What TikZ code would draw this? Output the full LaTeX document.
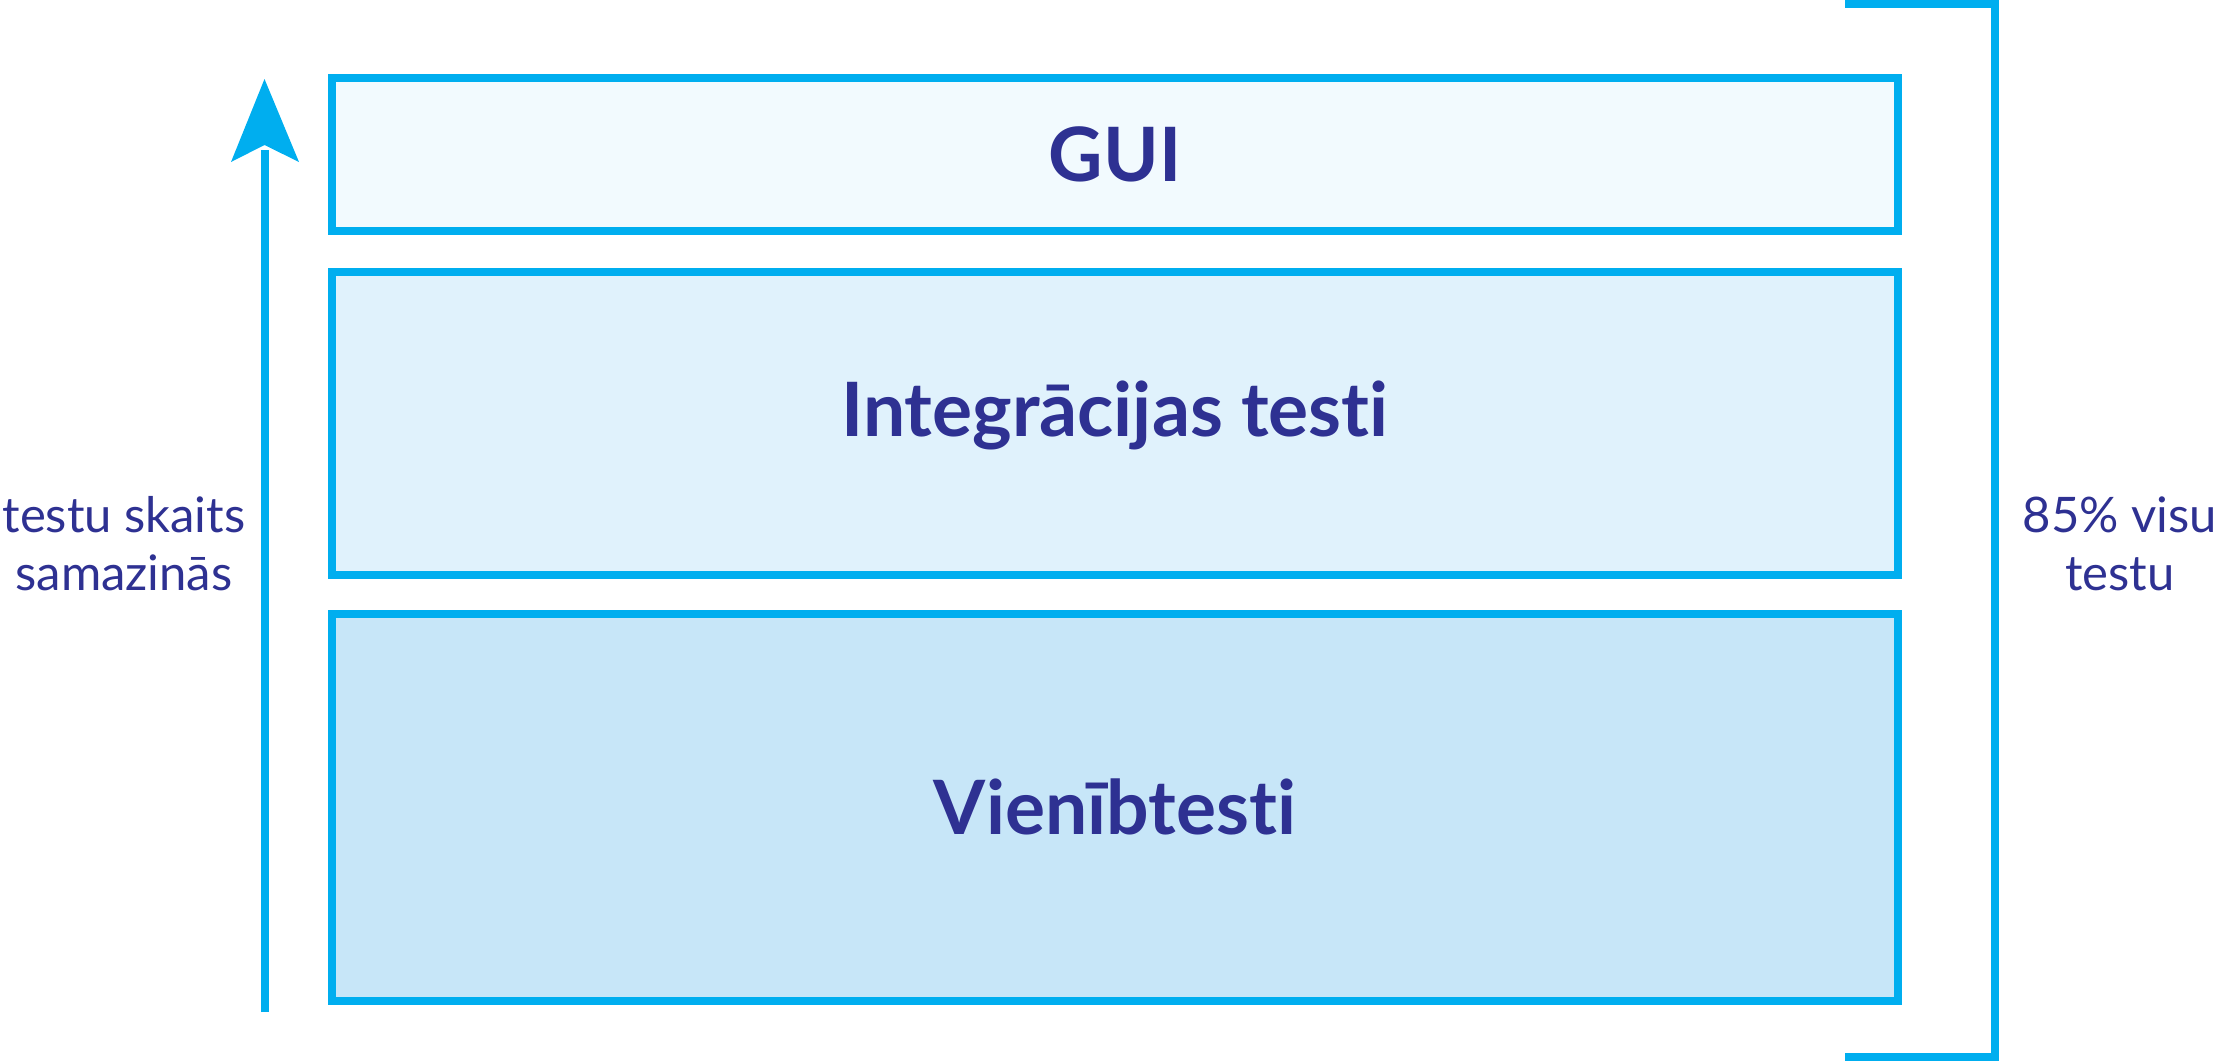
\documentclass[tikz,border=0pt]{standalone}
\usepackage{fontspec}
\setmainfont{Lato}[Ligatures=NoCommon, RawFeature={-liga,-dlig,-clig}]
\definecolor{edge}{HTML}{00AEEF}
\definecolor{ink}{HTML}{2E3192}
\definecolor{fillA}{HTML}{F2FAFE}
\definecolor{fillB}{HTML}{E0F2FC}
\definecolor{fillC}{HTML}{C7E6F8}
\tikzset{
  layer/.style={draw=edge, line width=8pt, minimum width=1566pt, inner sep=0pt, outer sep=0pt},
  layertext/.style={text=ink, font=\fontsize{75}{90}\selectfont\bfseries, anchor=base, inner sep=0pt},
  sidetext/.style={text=ink, font=\fontsize{49}{58}\selectfont, align=center, anchor=base, inner sep=0pt},
  bluel/.style={draw=edge, line width=8pt}
}
\begin{document}
\begin{tikzpicture}[x=1pt,y=-1pt]
\useasboundingbox (0,0) rectangle (2218,1061);
% layers
\node[layer, fill=fillA, minimum height=152.5pt] (gui) at (1115,154.25) {};
\node[layer, fill=fillB, minimum height=302.5pt] (integ) at (1115,423.25) {};
\node[layer, fill=fillC, minimum height=387pt] (unit) at (1115,807.5) {};
\node[layertext] (guit) at (1115,181) {GUI};
\node[layertext] (integt) at (1115,436) {Integrācijas testi};
\node[layertext] (unitt) at (1115,834.5) {Vienībtesti};
% arrow
\coordinate (abot) at (265,1012);
\coordinate (anotch) at (265,150);
\coordinate (atip) at (264.5,79);
\coordinate (aleft) at (231,162);
\coordinate (aright) at (299,162);
\draw[draw=edge, line width=8pt] (abot) -- (anotch);
\fill[edge] (atip) -- (aright) -- (264.5,145) -- (aleft) -- cycle;
% bracket
\coordinate (b1) at (1845,4);
\coordinate (b2) at (1995,4);
\coordinate (b3) at (1995,1057);
\coordinate (b4) at (1845,1057);
\draw[bluel] (b1) -- (b2) -- (b3) -- (b4);
% side texts
\node[sidetext] (lt) at (124,590) {testu skaits\\samazinās};
\node[sidetext] (rt) at (2120,590) {85\% visu\\testu};
\end{tikzpicture}
\end{document}
